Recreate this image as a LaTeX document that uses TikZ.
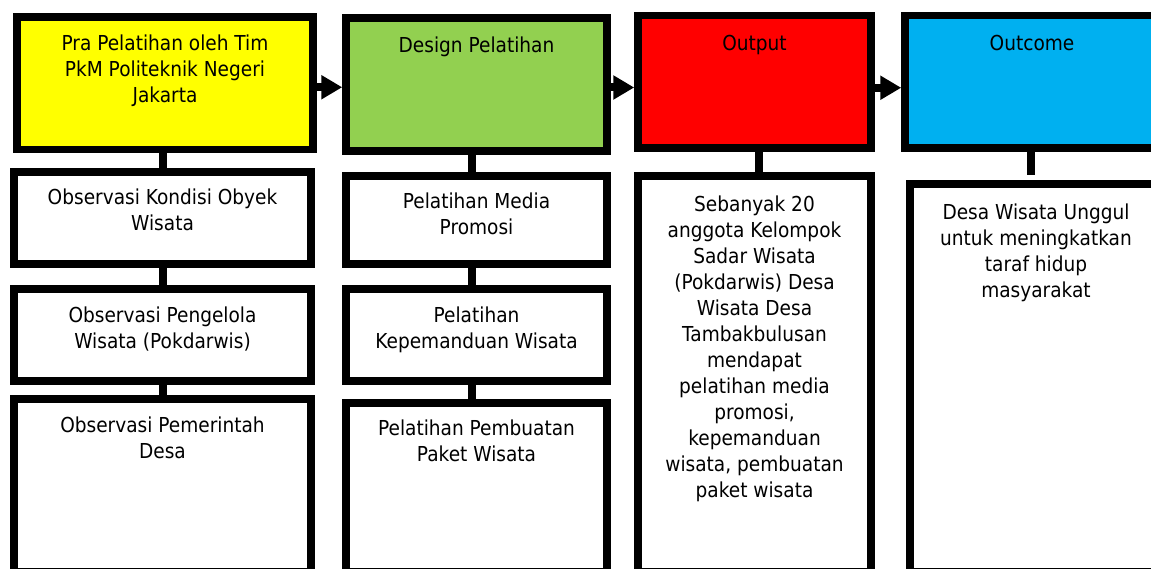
\documentclass[tikz,border=0pt]{standalone}
\usepackage{fontspec}
\setmainfont{DejaVu Sans}[FakeStretch=0.9]
\usepackage{xcolor}
\usetikzlibrary{arrows.meta,positioning,calc}

\definecolor{prayellow}{HTML}{FFFF00}
\definecolor{designgreen}{HTML}{92D050}
\definecolor{outputred}{HTML}{FF0000}
\definecolor{outcomeblue}{HTML}{00B0F0}

\tikzset{
  headbox/.style={draw=black,line width=7.5pt,rectangle,anchor=north west,outer sep=0pt,inner sep=0pt},
  itembox/.style={headbox,fill=white},
  txt/.style={align=center,inner sep=0pt,font=\fontsize{20.6}{26}\selectfont,execute at begin node=\strut},
  flow/.style={line width=8pt,-{Triangle[length=21pt,width=23pt]},shorten >=3.75pt},
  link/.style={line width=8pt},
}

\begin{document}
\begin{tikzpicture}[x=1pt,y=-1pt]
\useasboundingbox (0,0) rectangle (1151,569);
\clip (0,0) rectangle (1151,569);

\node[headbox,fill=prayellow,minimum width=296pt,minimum height=132.5pt] (pra) at (17,17) {};
\node[headbox,fill=designgreen,minimum width=261pt,minimum height=133pt] (design) at (346,18) {};
\node[headbox,fill=outputred,minimum width=233pt,minimum height=132.5pt] (output) at (638,15.5) {};
\node[headbox,fill=outcomeblue,minimum width=258pt,minimum height=132.5pt] (outcome) at (905,15.5) {};

\node[itembox,minimum width=297pt,minimum height=92pt] (obs1) at (14,172) {};
\node[itembox,minimum width=297pt,minimum height=92pt] (obs2) at (14,289) {};
\node[itembox,minimum width=297pt,minimum height=172.5pt] (obs3) at (14,399) {};
\node[itembox,minimum width=261pt,minimum height=88pt] (lat1) at (346,176) {};
\node[itembox,minimum width=261pt,minimum height=92pt] (lat2) at (346,289) {};
\node[itembox,minimum width=261pt,minimum height=168.5pt] (lat3) at (346,403) {};
\node[itembox,minimum width=233pt,minimum height=395.5pt] (outlow) at (638,176) {};
\node[itembox,minimum width=262pt,minimum height=387.5pt] (outcomelow) at (910,184) {};

\node[txt,below=17.3pt of pra.north] (pra-txt) {Pra Pelatihan oleh Tim\\PkM Politeknik Negeri\\Jakarta};
\node[txt,below=16.3pt of design.north] (design-txt) {Design Pelatihan};
\node[txt,below=16.8pt of output.north] (output-txt) {Output};
\node[txt,below=16.8pt of outcome.north,xshift=-2pt] (outcome-txt) {Outcome};

\node[txt,below=16.3pt of obs1.north] (obs1-txt) {Observasi Kondisi Obyek\\Wisata};
\node[txt,below=17.3pt of obs2.north] (obs2-txt) {Observasi Pengelola\\Wisata (Pokdarwis)};
\node[txt,below=17.3pt of obs3.north] (obs3-txt) {Observasi Pemerintah\\Desa};
\node[txt,below=16.3pt of lat1.north] (lat1-txt) {Pelatihan Media\\Promosi};
\node[txt,below=17.3pt of lat2.north] (lat2-txt) {Pelatihan\\Kepemanduan Wisata};
\node[txt,below=16.3pt of lat3.north] (lat3-txt) {Pelatihan Pembuatan\\Paket Wisata};
\node[txt,below=19.3pt of outlow.north] (outlow-txt) {Sebanyak 20\\anggota Kelompok\\Sadar Wisata\\(Pokdarwis) Desa\\Wisata Desa\\Tambakbulusan\\mendapat\\pelatihan media\\promosi,\\kepemanduan\\wisata, pembuatan\\paket wisata};
\node[txt,below=19.3pt of outcomelow.north,xshift=-5pt] (outcomelow-txt) {Desa Wisata Unggul\\untuk meningkatkan\\taraf hidup\\masyarakat};

\draw[flow] ([yshift=-4pt]pra.east) -- ([yshift=-4pt]pra.east -| design.west);
\draw[flow] ([yshift=-3pt]design.east) -- ([yshift=-3pt]design.east -| output.west);
\draw[flow] ([yshift=-6pt]output.east) -- ([yshift=-6pt]output.east -| outcome.west);

\draw[link] (obs1.north |- pra.south) -- (obs1.north);
\draw[link] (obs1.south) -- (obs2.north);
\draw[link] (obs2.south) -- (obs3.north);
\draw[link] ([xshift=-5pt]lat1.north |- design.south) -- ([xshift=-5pt]lat1.north);
\draw[link] ([xshift=-5pt]lat1.south) -- ([xshift=-5pt]lat2.north);
\draw[link] ([xshift=-5pt]lat2.south) -- ([xshift=-5pt]lat3.north);
\draw[link] ([xshift=4.5pt]output.south) -- ([xshift=4.5pt]outlow.north);
\draw[link,shorten >=9pt] ([xshift=-3pt]outcome.south) -- ([xshift=-3pt]outcome.south |- outcomelow.north);
\end{tikzpicture}
\end{document}
